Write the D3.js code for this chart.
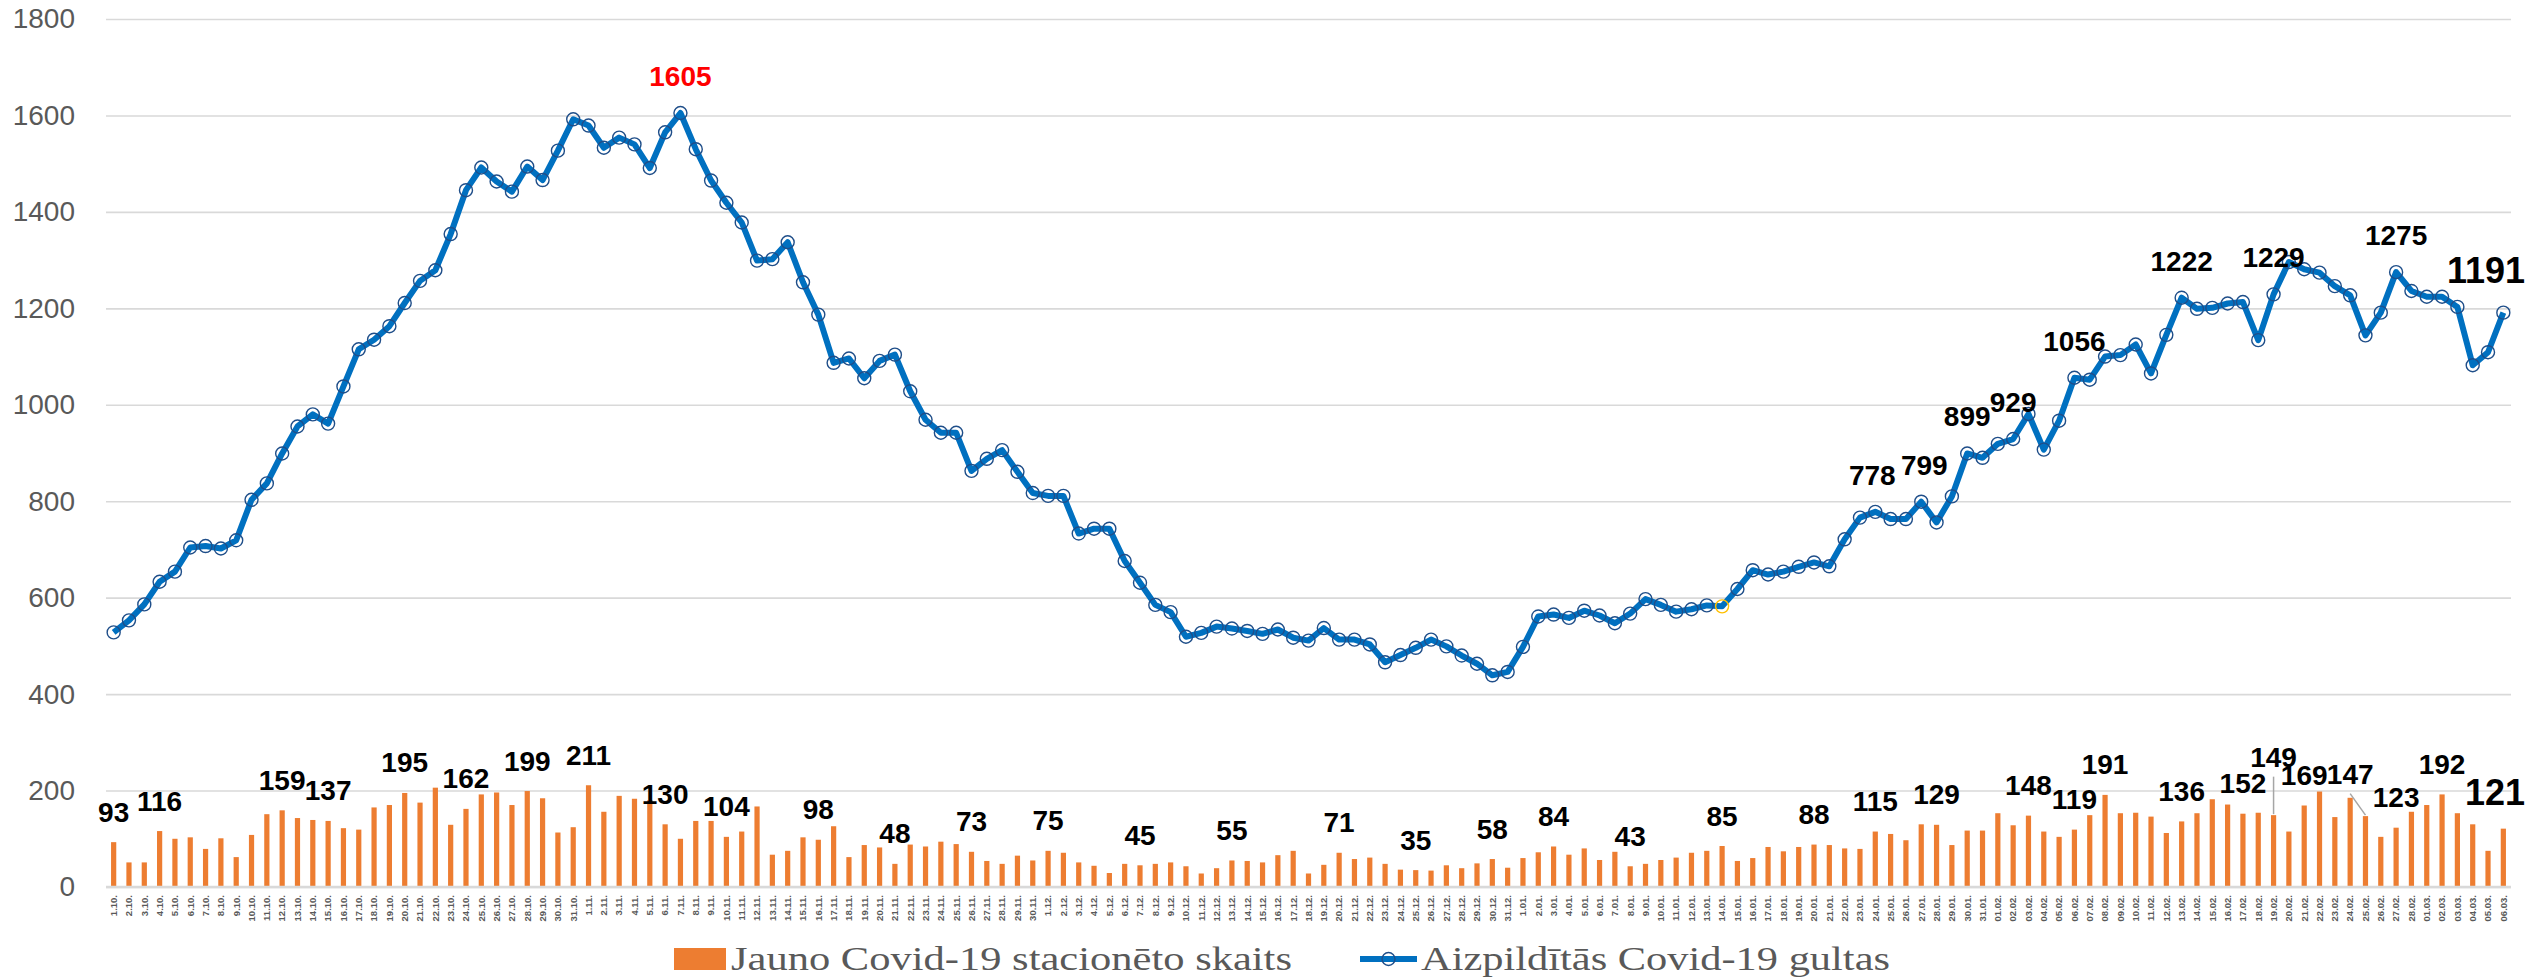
<!DOCTYPE html>
<html>
<head>
<meta charset="utf-8">
<script src="https://cdn.jsdelivr.net/npm/d3@7"></script>
<style>
  html, body { margin: 0; padding: 0; background: #fff; }
  svg { display: block; }
</style>
</head>
<body>
<svg id="chart" width="2527" height="980"></svg>
<script>
// ---------------- DATA ----------------
const dateLabels = [
  "1.10.","2.10.","3.10.","4.10.","5.10.","6.10.","7.10.","8.10.","9.10.","10.10.","11.10.","12.10.","13.10.","14.10.","15.10.","16.10.","17.10.","18.10.","19.10.","20.10.","21.10.","22.10.","23.10.","24.10.","25.10.","26.10.","27.10.","28.10.","29.10.","30.10.","31.10.",
  "1.11.","2.11.","3.11.","4.11.","5.11.","6.11.","7.11.","8.11.","9.11.","10.11.","11.11.","12.11.","13.11.","14.11.","15.11.","16.11.","17.11.","18.11.","19.11.","20.11.","21.11.","22.11.","23.11.","24.11.","25.11.","26.11.","27.11.","28.11.","29.11.","30.11.",
  "1.12.","2.12.","3.12.","4.12.","5.12.","6.12.","7.12.","8.12.","9.12.","10.12.","11.12.","12.12.","13.12.","14.12.","15.12.","16.12.","17.12.","18.12.","19.12.","20.12.","21.12.","22.12.","23.12.","24.12.","25.12.","26.12.","27.12.","28.12.","29.12.","30.12.","31.12.",
  "1.01.","2.01.","3.01.","4.01.","5.01.","6.01.","7.01.","8.01.","9.01.","10.01.","11.01.","12.01.","13.01.","14.01.","15.01.","16.01.","17.01.","18.01.","19.01.","20.01.","21.01.","22.01.","23.01.","24.01.","25.01.","26.01.","27.01.","28.01.","29.01.","30.01.","31.01.",
  "01.02.","02.02.","03.02.","04.02.","05.02.","06.02.","07.02.","08.02.","09.02.","10.02.","11.02.","12.02.","13.02.","14.02.","15.02.","16.02.","17.02.","18.02.","19.02.","20.02.","21.02.","22.02.","23.02.","24.02.","25.02.","26.02.","27.02.","28.02.",
  "01.03.","02.03.","03.03.","04.03.","05.03.","06.03."
];

// Jauno Covid-19 stacionēto skaits (bars)
const newHospitalised = [
  93,51,51,116,100,103,79,101,62,108,151,159,143,139,137,122,119,165,170,195,175,206,129,162,192,196,170,199,184,113,124,211,
  156,189,183,180,130,100,137,137,104,115,167,67,75,103,98,126,62,87,82,48,88,84,94,89,73,54,48,65,55,75,71,
  51,44,29,48,45,48,51,43,28,39,55,54,51,66,75,28,46,71,58,61,48,36,35,34,45,39,49,58,40,60,72,
  84,67,80,56,73,43,48,56,61,71,75,85,54,60,83,74,83,88,87,80,79,115,110,97,130,129,87,117,117,153,128,148,
  115,104,119,149,191,153,154,146,112,136,153,182,171,152,154,149,115,169,198,145,185,147,104,123,156,170,192,153,130,75,121
];

// Aizpildītās Covid-19 gultas (line)
const occupiedBeds = [
  528,553,586,633,654,704,707,702,719,803,837,899,955,980,961,1038,1115,1135,1163,1211,1257,1279,1354,1445,1492,1463,1442,1494,1466,1527,1592,1579,
  1533,1554,1540,1491,1565,1605,1530,1465,1419,1378,1299,1302,1337,1254,1187,1087,1096,1055,1091,1104,1028,969,942,942,863,888,906,861,817,811,811,
  733,743,743,676,631,585,570,519,527,540,536,531,525,534,517,511,537,513,513,503,466,481,496,513,499,480,463,439,446,498,561,
  565,558,573,563,547,567,597,585,571,576,584,582,618,657,648,654,664,673,665,721,766,778,763,763,799,756,810,899,890,919,929,981,
  907,967,1056,1052,1100,1103,1125,1065,1145,1222,1199,1201,1210,1213,1134,1229,1296,1281,1274,1246,1227,1144,1191,1275,1236,1224,1224,1203,1082,1109,1191
];

const yTicks = [0, 200, 400, 600, 800, 1000, 1200, 1400, 1600, 1800];

// indices of points that carry a data label
const barLabelIdx = [0,3,11,14,19,23,27,31,36,40,46,51,56,61,67,73,80,85,90,94,99,105,111,115,119,125,128,130,135,139,141,143,147,149,152,156];
const lineLabelIdx = [37,115,118,121,124,128,135,141,149,156];

const legendNames = ["Jauno Covid-19 stacionēto skaits", "Aizpildītās Covid-19 gultas"];

// ---------------- LAYOUT / STYLE ----------------
const W = 2527, H = 980;
const plot = { left: 106, right: 2511, top: 19, bottom: 887 };
const colors = { bar: "#ED7D31", line: "#0070C0", marker: "#1F4E89", grid: "#D9D9D9", axisText: "#595959" };

const svg = d3.select("#chart");
svg.append("rect").attr("width", W).attr("height", H).attr("fill", "#fff");

const idx = d3.range(dateLabels.length);
const x = d3.scaleBand().domain(idx).range([plot.left, plot.right]).paddingInner(0.66).paddingOuter(0.33);
const xc = i => x(i) + x.bandwidth() / 2;
const y = d3.scaleLinear().domain([0, 1800]).range([plot.bottom, plot.top]);

// gridlines + y labels via axis
const yAxis = d3.axisLeft(y).tickValues(yTicks).tickFormat(d3.format("d"))
  .tickSize(-(plot.right - plot.left)).tickPadding(31);
const gy = svg.append("g").attr("transform", `translate(${plot.left},0)`).call(yAxis);
gy.select(".domain").remove();
gy.selectAll(".tick line").attr("stroke", colors.grid).attr("stroke-width", 1.6);
gy.selectAll(".tick text")
  .attr("fill", colors.axisText)
  .style("font-family", "'Liberation Sans', Arial, sans-serif")
  .style("font-size", "28px");

// bars
svg.append("g").selectAll("rect")
  .data(newHospitalised)
  .join("rect")
  .attr("x", (d, i) => x(i))
  .attr("width", x.bandwidth())
  .attr("y", d => y(d))
  .attr("height", d => y(0) - y(d))
  .attr("fill", colors.bar);

// x baseline
svg.append("line")
  .attr("x1", plot.left).attr("x2", plot.right)
  .attr("y1", y(0)).attr("y2", y(0))
  .attr("stroke", colors.grid).attr("stroke-width", 2.5);

// x tick labels (rotated)
const xAxis = d3.axisBottom(x).tickFormat(i => dateLabels[i]).tickSize(0).tickPadding(0);
const gx = svg.append("g").attr("transform", `translate(0,${y(0)})`).call(xAxis);
gx.select(".domain").remove();
gx.selectAll(".tick text")
  .attr("transform", "rotate(-90)")
  .attr("text-anchor", "end")
  .attr("x", -8)
  .attr("y", 0)
  .attr("dy", "0.35em")
  .attr("fill", colors.axisText)
  .style("font-family", "'Liberation Sans', Arial, sans-serif")
  .style("font-weight", "bold")
  .style("font-size", "9.5px");

// line
const line = d3.line().x((d, i) => xc(i)).y(d => y(d));
svg.append("path")
  .datum(occupiedBeds)
  .attr("d", line)
  .attr("fill", "none")
  .attr("stroke", colors.line)
  .attr("stroke-width", 6)
  .attr("stroke-linejoin", "round");

// markers
svg.append("g").selectAll("circle")
  .data(occupiedBeds)
  .join("circle")
  .attr("cx", (d, i) => xc(i))
  .attr("cy", d => y(d))
  .attr("r", 6.5)
  .attr("fill", "none")
  .attr("stroke", (d, i) => i === 105 ? "#FFC000" : colors.marker)
  .attr("stroke-width", 1.4);

// data labels
const labelFont = "'Liberation Sans', Arial, sans-serif";
function placeLabel(g, i, value, baseY, size, color, cxOverride) {
  const t = g.append("text")
    .attr("x", cxOverride !== undefined ? cxOverride : xc(i))
    .attr("y", baseY)
    .attr("text-anchor", "middle")
    .attr("fill", color)
    .style("font-family", labelFont)
    .style("font-weight", "bold")
    .style("font-size", size + "px")
    .text(value);
  const w = t.node().getComputedTextLength();
  const cx = +t.attr("x");
  if (cx + w / 2 > W - 2) t.attr("x", W - 2 - w / 2);
  return t;
}

const lblG = svg.append("g");
// special layout adjustments for a few bar labels
const barLabelShift = { 141: { dy: -28, dx: 0, leader: true }, 147: { dy: -12, dx: -15.3, leader: true } };
barLabelIdx.forEach(i => {
  const v = newHospitalised[i];
  const big = i === dateLabels.length - 1;
  const size = big ? 36 : 28;
  const s = barLabelShift[i] || { dy: 0, dx: 0 };
  const baseY = y(v) - (big ? 24 : 20.5) + s.dy;
  placeLabel(lblG, i, v, baseY, size, "#000", xc(i) + s.dx);
  if (s.leader) {
    lblG.append("line")
      .attr("x1", xc(i) + s.dx).attr("y1", baseY + 10)
      .attr("x2", xc(i)).attr("y2", y(v) - 1)
      .attr("stroke", "#A6A6A6").attr("stroke-width", 1.5);
  }
});
const lineLabelDx = { 115: -3, 118: 3 };
lineLabelIdx.forEach(i => {
  const v = occupiedBeds[i];
  const big = i === dateLabels.length - 1;
  const size = big ? 36 : 28;
  const color = i === 37 ? "#FF0000" : "#000";
  placeLabel(lblG, i, v, y(v) - (big ? 29.5 : 27), size, color, xc(i) + (lineLabelDx[i] || 0));
});

// legend
const lg = svg.append("g");
lg.append("rect").attr("x", 674).attr("y", 948).attr("width", 52).attr("height", 22).attr("fill", colors.bar);
lg.append("text").attr("x", 731).attr("y", 970)
  .attr("textLength", 561).attr("lengthAdjust", "spacingAndGlyphs")
  .attr("fill", colors.axisText)
  .style("font-family", "'Liberation Serif', 'Times New Roman', serif")
  .style("font-size", "33px")
  .text(legendNames[0]);
lg.append("line").attr("x1", 1360).attr("x2", 1417).attr("y1", 959).attr("y2", 959)
  .attr("stroke", colors.line).attr("stroke-width", 6);
lg.append("circle").attr("cx", 1388.5).attr("cy", 959).attr("r", 6.5)
  .attr("fill", "none").attr("stroke", colors.marker).attr("stroke-width", 1.4);
lg.append("text").attr("x", 1421).attr("y", 970)
  .attr("textLength", 469).attr("lengthAdjust", "spacingAndGlyphs")
  .attr("fill", colors.axisText)
  .style("font-family", "'Liberation Serif', 'Times New Roman', serif")
  .style("font-size", "33px")
  .text(legendNames[1]);
</script>
</body>
</html>
